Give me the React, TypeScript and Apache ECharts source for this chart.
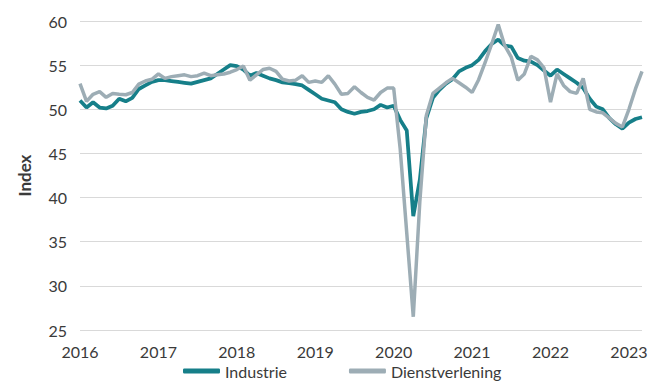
import React, { useEffect, useRef } from "react";
import * as echarts from "echarts";

const years = ["2016", "2017", "2018", "2019", "2020", "2021", "2022", "2023"];
const monthNums = ["01", "02", "03", "04", "05", "06", "07", "08", "09", "10", "11", "12"];
// Monthly categories Jan 2016 – Mar 2023
const categories: string[] = [];
years.forEach((y) => monthNums.forEach((m) => categories.push(`${y}-${m}`)));
categories.splice(87);

const industrie = [
  // 2016
  51.0, 50.2, 50.8, 50.2, 50.1, 50.4, 51.2, 50.9, 51.3, 52.3, 52.7, 53.1,
  // 2017
  53.3, 53.3, 53.2, 53.1, 53.0, 52.9, 53.1, 53.3, 53.5, 54.0, 54.5, 55.0,
  // 2018
  54.9, 54.5, 53.8, 54.1, 53.8, 53.5, 53.3, 53.05, 52.95, 52.85, 52.7, 52.2,
  // 2019
  51.7, 51.2, 51.0, 50.8, 50.0, 49.7, 49.5, 49.7, 49.8, 50.0, 50.5, 50.2,
  // 2020
  50.4, 48.8, 47.6, 37.9, 42.0, 49.0, 51.3, 52.2, 52.9, 53.4, 54.3, 54.7,
  // 2021
  55.0, 55.6, 56.6, 57.4, 57.9, 57.2, 57.1, 55.8, 55.5, 55.4, 55.0, 54.4,
  // 2022
  53.8, 54.5, 54.0, 53.5, 53.0, 52.4, 51.2, 50.3, 50.0, 49.0, 48.3, 47.8,
  // 2023
  48.5, 48.9, 49.1,
];

const dienstverlening = [
  // 2016
  52.9, 50.9, 51.7, 52.0, 51.35, 51.8, 51.7, 51.65, 51.9, 52.85, 53.2, 53.4,
  // 2017
  54.0, 53.5, 53.7, 53.8, 53.9, 53.7, 53.8, 54.1, 53.8, 53.9, 54.0, 54.2,
  // 2018
  54.5, 54.9, 53.3, 53.9, 54.5, 54.65, 54.3, 53.4, 53.2, 53.3, 53.8, 53.05,
  // 2019
  53.2, 53.05, 53.8, 52.85, 51.7, 51.8, 52.55, 51.9, 51.35, 51.05, 51.9, 52.4,
  // 2020
  52.4, 45.5, 36.0, 26.5, 39.5, 49.3, 51.8, 52.4, 53.0, 53.5, 53.0, 52.5,
  // 2021
  51.9, 53.35, 55.3, 57.4, 59.6, 57.2, 55.9, 53.3, 54.0, 56.0, 55.6, 54.7,
  // 2022
  50.8, 54.0, 52.7, 52.0, 51.8, 53.5, 50.0, 49.7, 49.6, 49.0, 48.4, 48.0,
  // 2023
  50.0, 52.3, 54.3,
];

const seriesNames = ["Industrie", "Dienstverlening"];
const colors = ["#167f89", "#9dadb5"];
const yAxisName = "Index";

const FONT = "Lato, 'Noto Sans', sans-serif";
const TEXT_COLOR = "#3a3a3a";

export default function App() {
  const ref = useRef<HTMLDivElement>(null);
  useEffect(() => {
    if (!ref.current) return;
    const chart = echarts.init(ref.current, undefined, { renderer: "svg" });
    chart.setOption({
      animation: false,
      backgroundColor: "#ffffff",
      color: colors,
      grid: { left: 80, right: 20, top: 21, bottom: 55, containLabel: false },
      legend: {
        data: seriesNames,
        left: 183,
        top: 363,
        padding: 0,
        icon: "roundRect",
        itemWidth: 37,
        itemHeight: 5,
        itemGap: 62,
        textStyle: { fontFamily: FONT, fontSize: 16, color: TEXT_COLOR },
      },
      xAxis: {
        type: "category",
        data: categories,
        boundaryGap: false,
        axisLine: { show: false },
        axisTick: { show: false },
        axisLabel: {
          interval: (index: number, value: string) => value.endsWith("-01"),
          formatter: (value: string) => value.slice(0, 4),
          fontFamily: FONT,
          fontSize: 16,
          color: TEXT_COLOR,
          margin: 13,
        },
        splitLine: { show: false },
      },
      yAxis: {
        type: "value",
        min: 25,
        max: 60,
        interval: 5,
        name: yAxisName,
        nameLocation: "middle",
        nameGap: 47,
        nameTextStyle: {
          fontFamily: "Lato, sans-serif",
          fontWeight: "bold",
          fontSize: 17,
          color: TEXT_COLOR,
        },
        axisLine: { show: false },
        axisTick: { show: false },
        axisLabel: {
          fontFamily: FONT,
          fontSize: 16,
          color: TEXT_COLOR,
          margin: 13,
        },
        splitLine: { lineStyle: { color: "#d9d9d9", width: 1 } },
      },
      series: [
        {
          name: seriesNames[0],
          type: "line",
          data: industrie,
          symbol: "none",
          lineStyle: { width: 3.75, color: colors[0] },
          itemStyle: { color: colors[0] },
        },
        {
          name: seriesNames[1],
          type: "line",
          data: dienstverlening,
          symbol: "none",
          lineStyle: { width: 3.5, color: colors[1] },
          itemStyle: { color: colors[1] },
        },
      ],
    });
    return () => chart.dispose();
  }, []);
  return (
    <div
      ref={ref}
      style={{ position: "fixed", left: 0, top: 0, width: 662, height: 385, background: "#fff" }}
    />
  );
}
